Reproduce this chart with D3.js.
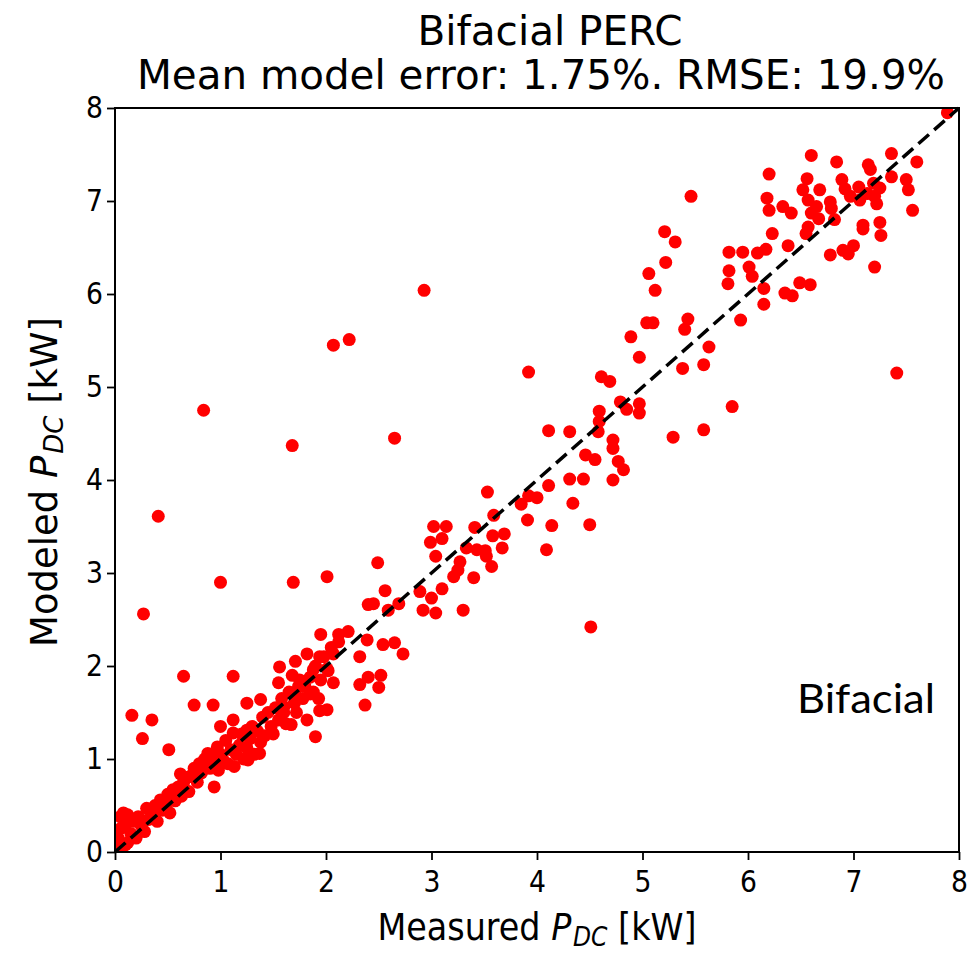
<!DOCTYPE html>
<html><head><meta charset="utf-8">
<script src="https://cdn.jsdelivr.net/npm/d3@7"></script>
<style>
body{margin:0;background:#fff;}
svg text{font-family:'DejaVu Sans',sans-serif;fill:#000;}
</style>
</head><body><svg id="chart" width="980" height="955"></svg>
<script>
// ---- data (kW) ----
const measuredKW = [
  0.02,0.03,0.05,0.08,0.1,0.12,0.15,0.18,0.2,0.22,0.25,0.28,0.3,0.32,0.05,0.12,0.06,0.1,
  0.35,0.38,0.4,0.43,0.45,0.48,0.5,0.52,0.55,0.57,0.6,0.62,0.63,0.65,0.68,0.7,
  0.72,0.75,0.78,0.8,0.82,0.85,0.88,0.9,0.92,0.95,0.97,0.98,1.0,0.94,
  1.02,1.05,1.07,1.1,1.12,1.13,1.15,1.18,1.2,1.22,1.25,1.26,1.28,1.3,1.32,1.35,1.37,1.38,1.4,
  0.16,0.35,0.26,0.51,0.75,0.93,1.0,1.12,1.25,1.38,0.65,1.12,0.27,0.41,0.84,1.0,1.69,2.01,1.68,2.65,2.07,2.22,2.93,3.92,4.51,7.41,
  1.42,1.45,1.48,1.5,1.52,1.55,1.58,1.6,1.62,1.65,1.67,1.7,1.72,1.75,1.78,1.8,1.85,1.88,1.9,1.95,1.98,2.02,2.05,
  1.56,1.68,1.82,1.94,2.07,2.12,1.55,1.71,1.85,1.93,2.07,1.82,1.94,2.01,1.9,1.71,1.95,2.12,2.21,1.88,2.01,1.74,1.6,1.25,
  2.32,2.32,2.37,2.4,2.4,2.5,2.52,2.39,2.54,2.65,2.73,2.49,2.45,2.56,2.59,2.69,2.89,2.92,3.0,3.1,3.04,3.3,
  3.02,3.14,2.99,3.1,3.04,3.21,3.25,3.27,3.4,3.41,3.33,3.43,3.51,3.52,3.57,3.58,3.69,3.67,3.53,3.59,3.85,3.92,4.0,3.91,4.11,4.14,4.09,
  4.11,4.31,4.34,4.31,4.44,4.46,4.55,4.5,4.58,4.59,4.59,4.72,4.72,4.77,4.82,4.72,4.79,4.85,4.97,4.97,4.61,4.69,4.89,4.97,
  5.21,5.31,5.22,5.06,5.12,5.04,5.1,5.43,5.4,5.63,5.38,5.58,5.85,5.29,5.58,5.46,
  5.82,5.95,6.09,6.17,6.23,6.38,5.82,5.81,6.01,6.04,6.15,6.15,6.35,6.42,6.49,6.59,5.93,
  7.89,6.6,6.84,6.2,7.36,7.6,7.14,7.16,6.56,6.89,7.36,7.5,7.52,6.52,6.68,6.92,7.05,7.19,7.25,7.13,6.97,7.2,7.06,7.22,
  6.57,6.65,6.78,6.79,6.6,6.67,6.82,6.57,6.55,6.33,6.41,7.56,7.25,7.09,7.09,7.26,7.0,6.9,6.95,6.78,7.2,6.18,6.2
];
const modeledKW = [
  0.05,0.15,0.25,0.42,0.3,0.1,0.2,0.33,0.15,0.38,0.28,0.22,0.47,0.35,0.38,0.4,0.02,0.08,
  0.4,0.5,0.33,0.56,0.45,0.5,0.62,0.42,0.67,0.55,0.7,0.84,0.6,0.75,0.8,0.65,
  0.82,0.9,0.75,0.95,0.85,1.0,1.06,0.9,1.02,0.95,1.13,0.88,1.05,0.7,
  1.0,1.2,0.95,1.1,1.28,0.92,1.05,1.15,1.27,1.0,1.12,0.99,1.22,1.35,1.05,1.3,1.06,1.18,1.45,
  1.47,1.42,1.22,1.1,1.58,1.58,1.35,1.42,1.6,1.64,1.89,1.89,2.56,3.61,4.75,2.9,2.9,2.96,4.37,4.45,5.45,5.51,6.04,5.16,2.42,5.15,
  1.25,1.5,1.35,1.27,1.55,1.42,1.65,1.5,1.38,1.72,1.37,1.6,1.5,1.85,1.65,1.78,1.88,1.72,2.0,1.85,2.1,1.95,2.2,
  1.99,1.9,2.13,2.1,2.13,2.26,1.82,1.7,1.7,1.65,1.82,1.42,1.52,1.53,1.24,2.05,2.34,2.34,2.37,1.96,1.97,1.78,1.56,1.31,
  2.1,1.8,1.58,2.66,1.88,1.77,1.9,2.28,2.23,2.25,2.13,3.11,2.67,2.81,2.6,2.67,2.8,2.6,2.73,2.83,2.57,2.6,
  3.5,3.5,3.33,3.37,3.18,2.96,3.03,3.12,2.95,3.49,3.27,3.25,3.24,3.18,3.07,3.4,3.42,3.27,3.87,3.62,3.74,3.83,3.81,3.57,3.94,3.51,3.25,
  4.53,4.52,3.75,4.01,4.01,4.27,4.22,3.52,4.52,4.63,4.74,4.43,4.34,4.2,4.11,4.0,4.84,4.76,4.82,4.72,5.11,5.06,5.54,5.32,
  6.67,6.56,6.34,6.22,6.04,5.69,5.69,5.73,5.62,5.43,5.2,5.24,4.79,4.46,4.54,7.05,
  6.45,6.45,6.44,6.48,6.65,6.52,6.25,6.11,6.29,6.19,6.06,5.89,6.01,5.98,6.12,6.1,5.72,
  7.95,7.49,7.42,7.29,7.51,7.42,7.39,7.34,7.24,7.23,7.26,7.23,7.12,7.12,7.12,7.13,7.15,7.19,7.14,7.08,7.05,7.05,7.01,6.97,
  7.01,6.94,6.99,6.92,6.87,6.81,6.8,6.72,6.65,6.94,6.87,6.9,6.77,6.74,6.7,6.63,6.52,6.47,6.43,6.42,6.29,7.03,6.9
];
const xTicks = [0,1,2,3,4,5,6,7,8];
const yTicks = [0,1,2,3,4,5,6,7,8];
const axisDomain = [0, 8];
const titleLines = ["Bifacial PERC", "Mean model error: 1.75%. RMSE: 19.9%"];
const annotation = "Bifacial";

// ---- layout ----
const svg = d3.select("#chart");
const L = 115, R = 959, T = 108, B = 852;
const x = d3.scaleLinear().domain(axisDomain).range([L, R]);
const y = d3.scaleLinear().domain(axisDomain).range([B, T]);
const points = measuredKW.map((m, i) => ({m, p: modeledKW[i]}));

svg.append("rect").attr("width", 980).attr("height", 955).attr("fill", "#fff");

// points
svg.append("clipPath").attr("id", "clip").append("rect")
  .attr("x", L).attr("y", T).attr("width", R - L).attr("height", B - T);
svg.append("g").attr("clip-path", "url(#clip)")
  .selectAll("circle").data(points).join("circle")
  .attr("cx", d => x(d.m)).attr("cy", d => y(d.p)).attr("r", 6.5)
  .attr("fill", "#ff0000");

// 1:1 dashed line
svg.append("line")
  .attr("x1", x(axisDomain[0])).attr("y1", y(axisDomain[0]))
  .attr("x2", x(axisDomain[1])).attr("y2", y(axisDomain[1]))
  .attr("stroke", "#000").attr("stroke-width", 3.5)
  .attr("stroke-dasharray", "14,7");

// axes
const xAxis = svg.append("g").attr("transform", `translate(0,${B})`)
  .call(d3.axisBottom(x).tickValues(xTicks).tickFormat(d3.format("d")).tickSize(8).tickPadding(10));
const yAxis = svg.append("g").attr("transform", `translate(${L},0)`)
  .call(d3.axisLeft(y).tickValues(yTicks).tickFormat(d3.format("d")).tickSize(8).tickPadding(6));
[xAxis, yAxis].forEach(g => {
  g.select(".domain").remove();
  g.selectAll(".tick line").attr("stroke", "#000").attr("stroke-width", 1.8);
  g.selectAll(".tick text").style("font-size", "31px").attr("fill", "#000")
    .attr("transform", "scale(0.86,1)");
});

// frame
svg.append("rect").attr("x", L).attr("y", T).attr("width", R - L).attr("height", B - T)
  .attr("fill", "none").attr("stroke", "#000").attr("stroke-width", 2);

// titles
svg.append("text").attr("x", 550).attr("y", 45).attr("text-anchor", "middle")
  .style("font-size", "41px").attr("textLength", 265).attr("lengthAdjust", "spacingAndGlyphs")
  .text(titleLines[0]);
svg.append("text").attr("x", 541).attr("y", 89).attr("text-anchor", "middle")
  .style("font-size", "41px").attr("textLength", 808).attr("lengthAdjust", "spacingAndGlyphs")
  .text(titleLines[1]);

// axis labels
function pdcLabel(sel, first) {
  sel.append("tspan").text(first + " ");
  sel.append("tspan").style("font-style", "italic").text("P");
  sel.append("tspan").style("font-style", "italic").style("font-size", "26px")
    .attr("dx", 2).attr("dy", 6).text("DC");
  sel.append("tspan").attr("dy", -6).text(" [kW]");
}
svg.append("text").attr("x", 537).attr("y", 940).attr("text-anchor", "middle")
  .style("font-size", "37px").attr("textLength", 319).attr("lengthAdjust", "spacingAndGlyphs")
  .call(pdcLabel, "Measured");
svg.append("text").attr("transform", "translate(57,482) rotate(-90)").attr("text-anchor", "middle")
  .style("font-size", "37px").attr("textLength", 330).attr("lengthAdjust", "spacingAndGlyphs")
  .call(pdcLabel, "Modeled");

// annotation
svg.append("text").attr("x", 935).attr("y", 713).attr("text-anchor", "end")
  .style("font-family", "Lato, 'Open Sans', sans-serif")
  .style("font-size", "41px").attr("textLength", 138).attr("lengthAdjust", "spacingAndGlyphs")
  .text(annotation);
</script>
</body></html>
